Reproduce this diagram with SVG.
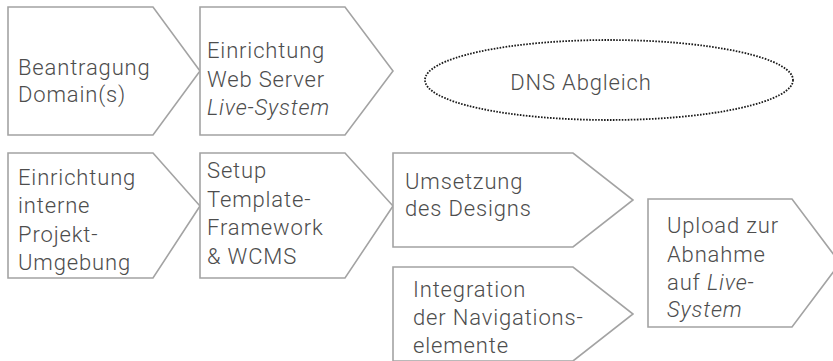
<svg xmlns="http://www.w3.org/2000/svg" width="833" height="361" viewBox="0 0 833 361">
<style>
.shape{fill:#ffffff;stroke:#a3a3a3;stroke-width:1.6;stroke-linejoin:miter}
.lbl{font-family:Roboto,"Liberation Sans",sans-serif;font-weight:300;font-size:22px;letter-spacing:0.85px;fill:#4d4d4d}
.it{font-style:italic}
.dns{fill:none;stroke:#1a1a1a;stroke-width:1.8;stroke-dasharray:1.6 1.4}
</style>
<rect width="833" height="361" fill="#ffffff"/>
<g id="connectors"></g>
<g id="n1">
<polygon class="shape" points="8,7 153,7 200,71 153,135 8,135"/>
<text class="lbl" x="18"><tspan x="18" y="75">Beantragung</tspan><tspan x="18" y="102">Domain(s)</tspan></text>
</g>
<g id="n2">
<polygon class="shape" points="200,7 345,7 393,71 345,135 200,135"/>
<text class="lbl"><tspan x="207" y="58">Einrichtung</tspan><tspan x="207" y="87">Web Server</tspan><tspan class="it" x="207" y="115">Live-System</tspan></text>
</g>
<g id="n3">
<ellipse class="dns" cx="609" cy="80" rx="184" ry="40"/>
<text class="lbl" x="581" y="90" text-anchor="middle">DNS Abgleich</text>
</g>
<g id="n4">
<polygon class="shape" points="8,153 153,153 200,206 153,278 8,278"/>
<text class="lbl"><tspan x="18" y="185">Einrichtung</tspan><tspan x="18" y="213">interne</tspan><tspan x="18" y="242">Projekt-</tspan><tspan x="18" y="270">Umgebung</tspan></text>
</g>
<g id="n5">
<polygon class="shape" points="200,153 345,153 393,206 345,278 200,278"/>
<text class="lbl"><tspan x="207" y="178">Setup</tspan><tspan x="207" y="207">Template-</tspan><tspan x="207" y="235">Framework</tspan><tspan x="207" y="264">&amp; WCMS</tspan></text>
</g>
<g id="n6">
<polygon class="shape" points="393,153 573,153 633,200 573,247 393,247"/>
<text class="lbl"><tspan x="405" y="189">Umsetzung</tspan><tspan x="405" y="216">des Designs</tspan></text>
</g>
<g id="n7">
<polygon class="shape" points="393,267 573,267 633,314 573,361 393,361"/>
<text class="lbl"><tspan x="413" y="297">Integration</tspan><tspan x="413" y="325">der Navigations-</tspan><tspan x="413" y="353">elemente</tspan></text>
</g>
<g id="n8">
<polygon class="shape" points="648,199 792,199 840,263 792,327 648,327"/>
<text class="lbl"><tspan x="667" y="233">Upload zur</tspan><tspan x="667" y="262">Abnahme</tspan><tspan x="667" y="290">auf <tspan class="it">Live-</tspan></tspan><tspan class="it" x="667" y="317">System</tspan></text>
</g>
</svg>
